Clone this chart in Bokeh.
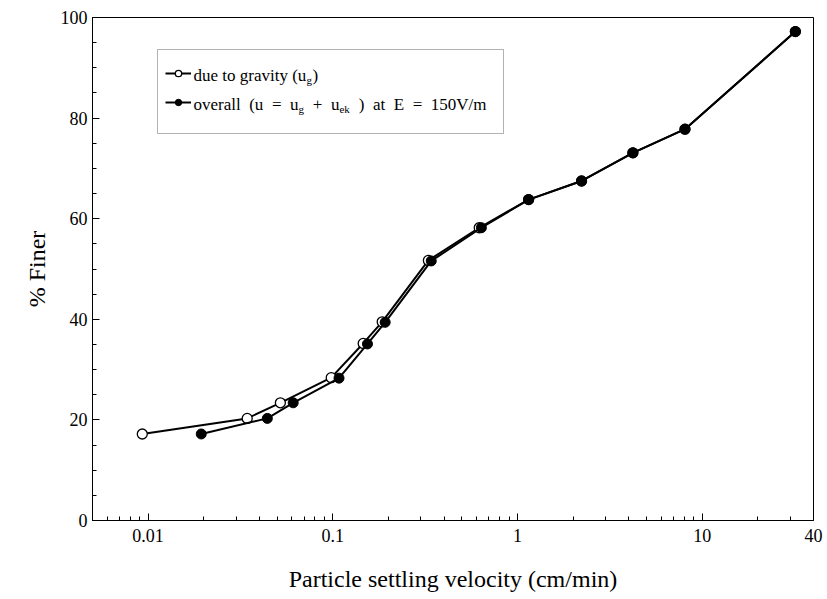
from bokeh.plotting import figure
from bokeh.models import (FixedTicker, SingleIntervalTicker, Range1d, Legend, LegendItem,
                          BoxAnnotation, Label)
from bokeh.embed import file_html
from bokeh.resources import INLINE

# ---- data ----
v_gravity = [0.0093, 0.0344, 0.052, 0.098, 0.146, 0.185, 0.329, 0.62, 1.147, 2.22, 4.21, 8.06, 31.9]
f_gravity = [17.2, 20.3, 23.4, 28.4, 35.2, 39.5, 51.7, 58.2, 63.8, 67.5, 73.1, 77.8, 97.2]
v_overall = [0.0194, 0.0442, 0.061, 0.108, 0.154, 0.192, 0.341, 0.637, 1.15, 2.22, 4.21, 8.06, 31.9]
f_overall = [17.2, 20.3, 23.4, 28.3, 35.1, 39.4, 51.6, 58.2, 63.8, 67.5, 73.1, 77.8, 97.2]

x_major = [0.01, 0.1, 1, 10, 40]
x_minor = [m * 10.0 ** e for e in (-3, -2, -1, 0, 1) for m in range(2, 10)]
x_minor = [t for t in x_minor if 0.005 <= t <= 40 and t not in x_major]

FONT = "Liberation Serif"

p = figure(x_axis_type="log", output_backend="svg", toolbar_location=None,
           frame_width=721, frame_height=503,
           min_border_left=92, min_border_top=17, min_border_right=12, min_border_bottom=73,
           x_range=Range1d(0.005, 40), y_range=Range1d(0, 100))
p.background_fill_color = "white"
p.border_fill_color = "white"
p.outline_line_color = "black"
p.outline_line_width = 1
p.grid.visible = False

xa = p.xaxis[0]
xa.ticker = FixedTicker(ticks=x_major, minor_ticks=x_minor)
xa.major_label_overrides = {0.01: "0.01", 0.1: "0.1", 1: "1", 10: "10", 40: "40"}
ya = p.yaxis[0]
ya.ticker = SingleIntervalTicker(interval=20, num_minor_ticks=4)

for ax in (xa, ya):
    ax.major_tick_in = 7
    ax.major_tick_out = 0
    ax.minor_tick_in = 4
    ax.minor_tick_out = 0
    ax.axis_line_color = "black"
    ax.major_tick_line_color = "black"
    ax.minor_tick_line_color = "black"
    ax.major_label_text_font = FONT
    ax.major_label_text_font_size = "18px"
    ax.major_label_text_color = "black"
    ax.axis_label_text_font = FONT
    ax.axis_label_text_font_size = "24px"
    ax.axis_label_text_font_style = "normal"
    ax.axis_label_text_color = "black"

xa.axis_label = "Particle settling velocity (cm/min)"
xa.major_label_standoff = 8
xa.axis_label_standoff = 21
ya.axis_label = "% Finer"
ya.major_label_standoff = 5
ya.axis_label_standoff = 8

# ---- series ----
l1 = p.line(v_gravity, f_gravity, line_color="black", line_width=2)
s1 = p.scatter(v_gravity, f_gravity, size=10, marker="circle", fill_color="white",
               line_color="black", line_width=1.3)
l2 = p.line(v_overall, f_overall, line_color="black", line_width=2)
s2 = p.scatter(v_overall, f_overall, size=10, marker="circle", fill_color="black",
               line_color="black", line_width=1)

# ---- legend (box + glyphs + rich text) ----
box = BoxAnnotation(left=65, right=411, top=471, bottom=387,
                    left_units="screen", right_units="screen",
                    top_units="screen", bottom_units="screen",
                    fill_color="white", fill_alpha=1.0, line_color="black", line_width=1,
                    level="annotation")
p.add_layout(box)

legend = Legend(items=[LegendItem(label=" ", renderers=[l1, s1]),
                       LegendItem(label=" ", renderers=[l2, s2])],
                location=(73, 410), margin=0, padding=0, spacing=13,
                glyph_width=26, glyph_height=16, label_height=16, label_width=0,
                label_standoff=0, label_text_font_size="1px",
                border_line_alpha=0, background_fill_alpha=0)
p.add_layout(legend, "center")

def lab(x, y, t, size, align="left", baseline="alphabetic"):
    p.add_layout(Label(x=x, y=y, x_units="screen", y_units="screen", text=t,
                       text_font=FONT, text_font_size=size, text_color="black",
                       text_baseline=baseline, text_align=align, level="overlay"))

# line 1
lab(101, 445, "due to gravity (u", "17px")
lab(214, 441, "g", "11px")
lab(220, 445, ")", "17px")
# line 2 (wide spacing as in the reference)
line2 = [(101, "overall", 0), (156.7, "(u", 0), (179.4, "=", 0), (197.5, "u", 0),
         (206.0, "g", 1), (220.3, "+", 0), (238.4, "u", 0), (246.9, "ek", 1),
         (266.3, ")", 0), (280.5, "at", 0), (301.3, "E", 0), (320.2, "=", 0),
         (338.3, "150V/m", 0)]
for x, t, sub in line2:
    if sub:
        lab(x, 412, t, "11px")
    else:
        lab(x, 416, t, "17px")

open("out.html", "w").write(file_html(p, INLINE))
